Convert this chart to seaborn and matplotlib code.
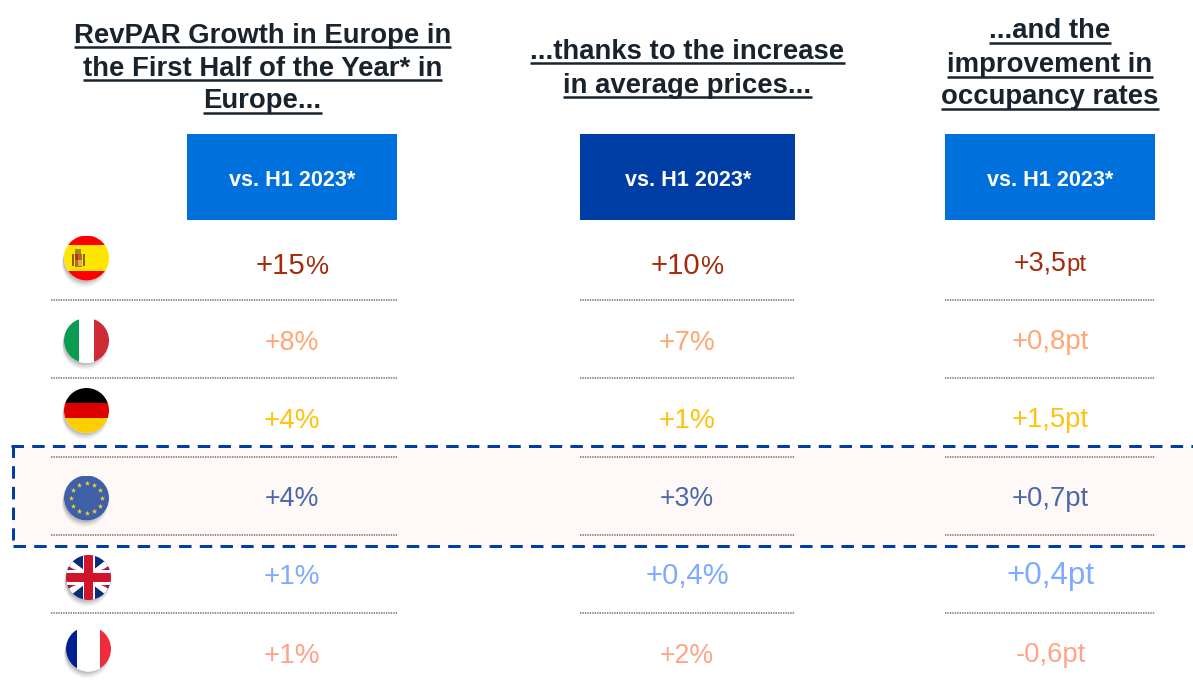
import matplotlib
matplotlib.use("Agg")
import matplotlib.pyplot as plt
from matplotlib.patches import Circle, Rectangle, Polygon
import numpy as np
import pandas as pd
import seaborn as sns

# ---- data ----
countries = ["Spain", "Italy", "Germany", "Europe", "UK", "France"]
revpar = [("+15", "%"), ("+8", "%"), ("+4", "%"), ("+4", "%"), ("+1", "%"), ("+1", "%")]
prices = [("+10", "%"), ("+7", "%"), ("+1", "%"), ("+3", "%"), ("+0,4", "%"), ("+2", "%")]
occupancy = [("+3,5", "pt"), ("+0,8", "pt"), ("+1,5", "pt"), ("+0,7", "pt"), ("+0,4", "pt"), ("-0,6", "pt")]
headers = [
    ["RevPAR Growth in Europe in", "the First Half of the Year* in", "Europe..."],
    ["...thanks to the increase", "in average prices..."],
    ["...and the", "improvement in", "occupancy rates"],
]
box_label = "vs. H1 2023*"

# ---- styles / layout ----
W, H = 1193, 684
row_colors = ["#A32A0B", "#FFA673", "#FFC20E", "#4A66AC", "#7FAAFF", "#FFA388"]
box_colors = ["#0070DC", "#003DA5", "#0070DC"]
col_centers = [292, 687, 1050.5]
col_boxes = [(187, 397), (580, 795), (945, 1155)]
box_text_x = [292.5, 688, 1050.5]
baselines = [[274, 350, 428, 506, 584, 663],
             [274, 350, 428, 506, 584, 663],
             [271, 349, 427, 506, 584, 662.5]]
num_sizes = [[21.2, 19.3, 20, 19.3, 20, 20],
             [21.2, 20.2, 20.2, 19.2, 21.1, 19.2],
             [19.4, 19.7, 19.7, 19.7, 22.6, 19.7]]
unit_sizes = [[18.7, 19.3, 20, 19.3, 20, 20],
              [18.7, 20.2, 20.2, 19.2, 21.1, 19.2],
              [17.3, 19.7, 19.7, 19.7, 22.6, 19.7]]
sep_y = [300, 378, 457, 535, 613]
flag_x = [86.5, 86.5, 86.5, 86.5, 88.5, 88.5]
flag_y = [258, 340.5, 410.5, 498, 577.5, 649]
R = 22.5
header_base = [[42.7, 76, 108.5], [59.3, 92.7], [38.3, 71.7, 104]]
header_line = [[46.5, 80, 113], [63.3, 97.3], [43, 76.7, 109]]
header_cx = [262.5, 687.5, 1050]
dark = "#18232D"

sns.set_theme(style="white")
plt.rcParams["font.family"] = ["Liberation Sans", "DejaVu Sans"]
fig = plt.figure(figsize=(W / 100, H / 100), dpi=100, facecolor="white")
ax = fig.add_axes([0, 0, 1, 1])
ax.set_xlim(0, W)
ax.set_ylim(H, 0)
ax.axis("off")

# highlight band
dash = dict(color="#003DA5", lw=2.16, ls=(0, (4.15, 2.75)), dash_capstyle="butt", zorder=2.5)
ax.add_patch(Rectangle((12, 445.5), W, 100.5, facecolor="#FEF9F6", edgecolor="none", zorder=1))
ax.plot([11, W], [445.5, 445.5], **dash)
ax.plot([13, W], [546, 546], **dash)
ax.plot([12.5, 12.5], [445, 540], **dash)

# headers with underlines
fig.canvas.draw()
rend = fig.canvas.get_renderer()
for lines, ys, uls, cx in zip(headers, header_base, header_line, header_cx):
    for line, y, ul in zip(lines, ys, uls):
        t = ax.text(cx, y, line, ha="center", va="baseline", fontsize=19.85, fontweight="bold", color=dark, zorder=4)
        bb = t.get_window_extent(rend)
        ax.plot([bb.x0, bb.x1], [ul, ul], color=dark, lw=1.8, solid_capstyle="butt", zorder=4)

# boxes
for (x0, x1), c, tx in zip(col_boxes, box_colors, box_text_x):
    ax.add_patch(Rectangle((x0, 134), x1 - x0, 85.5, facecolor=c, edgecolor="none", zorder=2))
    ax.text(tx, 185.7, box_label, ha="center", va="baseline", fontsize=15.6, fontweight="bold",
            color="white", zorder=3)

# separators
for y in sep_y:
    for i, (x0, x1) in enumerate(col_boxes):
        ax.plot([51 if i == 0 else x0, x1], [y, y], color="#6E6E6E", lw=1.1, ls=(0, (0.9, 0.7)), zorder=2)

# values: one string when number and unit share a size, two side by side otherwise
for col, cx, bases, nsz, usz in zip([revpar, prices, occupancy], col_centers, baselines, num_sizes, unit_sizes):
    for (num, unit), y, c, fn, fu in zip(col, bases, row_colors, nsz, usz):
        if fn == fu:
            ax.text(cx, y, num + unit, ha="center", va="baseline", fontsize=fn, color=c, zorder=4)
            continue
        a = ax.text(0, y, num, ha="left", va="baseline", fontsize=fn, color=c, zorder=4)
        b = ax.text(0, y, unit, ha="left", va="baseline", fontsize=fu, color=c, zorder=4)
        wa = a.get_window_extent(rend).width
        wb = b.get_window_extent(rend).width
        a.set_x(cx - (wa + wb) / 2)
        b.set_x(cx - (wa + wb) / 2 + wa)

# flag shadows and discs through seaborn
df = pd.DataFrame({"country": countries, "x": flag_x, "y": flag_y})
for off, a, s in [(6, .03, 1.03), (6, .04, 1.0), (5, .05, 1.0), (4, .07, .99), (3, .09, .98), (2, .10, .98)]:
    shadow = df.assign(x=df.x - 1.5, y=df.y + off)
    sns.scatterplot(data=shadow, x="x", y="y", s=(2 * R * .72 * s) ** 2, color="#444444", alpha=a,
                    edgecolor="none", legend=False, ax=ax, zorder=3, clip_on=False)
sns.scatterplot(data=df, x="x", y="y", s=(2 * R * .72) ** 2, color="white", edgecolor="none",
                legend=False, ax=ax, zorder=4)
ax.set_xlim(0, W); ax.set_ylim(H, 0); ax.set_xlabel(""); ax.set_ylabel("")


def disc(cx, cy):
    return Circle((cx, cy), R, transform=ax.transData, fc="none", ec="none")


def clipped(p, cx, cy, z=5):
    ax.add_patch(p)
    p.set_zorder(z)
    p.set_clip_path(disc(cx, cy))
    return p


def hbands(cx, cy, fr, cols):
    for (a, b), c in zip(zip(fr[:-1], fr[1:]), cols):
        clipped(Rectangle((cx - R, cy - R + a * 2 * R), 2 * R, (b - a) * 2 * R, fc=c, ec="none"), cx, cy)


def vbands(cx, cy, fr, cols):
    for (a, b), c in zip(zip(fr[:-1], fr[1:]), cols):
        clipped(Rectangle((cx - R + a * 2 * R, cy - R), (b - a) * 2 * R, 2 * R, fc=c, ec="none"), cx, cy)


# Spain
hbands(flag_x[0], flag_y[0], [0, .22, .78, 1], ["#FF0000", "#FFE600", "#FF0000"])
cx, cy = flag_x[0] - 8.5, flag_y[0]
ax.add_patch(Rectangle((cx - 3.5, cy - 4), 7, 13, fc="#C0632B", ec="none", zorder=6))
ax.add_patch(Rectangle((cx - 3.5, cy - 4), 3.5, 6, fc="#B5302A", ec="none", zorder=6))
ax.add_patch(Rectangle((cx, cy + 2), 3.5, 6, fc="#D8B23A", ec="none", zorder=6))
ax.add_patch(Rectangle((cx - 6.5, cy - 4), 2, 12, fc="#7A6A20", ec="none", zorder=6))
ax.add_patch(Rectangle((cx + 4.5, cy - 4), 2, 12, fc="#7A6A20", ec="none", zorder=6))
ax.add_patch(Rectangle((cx - 3, cy - 9.5), 6, 5, fc="#A8862A", ec="none", zorder=6))

vbands(flag_x[1], flag_y[1], [0, .34, .66, 1], ["#0A9A50", "#FFFFFF", "#CE2B37"])
hbands(flag_x[2], flag_y[2], [0, .33, .67, 1], ["#000000", "#DD0000", "#FFCE00"])

# EU
cx, cy = flag_x[3], flag_y[3]
clipped(Rectangle((cx - R, cy - R), 2 * R, 2 * R, fc="#3F5FA8", ec="none"), cx, cy)
ang = np.arange(12) * np.pi / 6
ax.scatter(cx + 15.2 * np.cos(ang), cy + 15.2 * np.sin(ang), marker="*", s=16, color="#F5D327", lw=0, zorder=6)

# UK
cx, cy = flag_x[4], flag_y[4]
clipped(Rectangle((cx - R, cy - R), 2 * R, 2 * R, fc="#0B2A78", ec="none"), cx, cy)
for sx in (-1, 1):
    clipped(Polygon([(cx - sx * 27, cy - 17), (cx - sx * 22, cy - 21), (cx + sx * 27, cy + 17), (cx + sx * 22, cy + 21)],
                    fc="white", ec="none"), cx, cy)
    clipped(Polygon([(cx - sx * 22, cy - 9), (cx - sx * 20, cy - 10.5), (cx - sx * 11, cy - 7), (cx - sx * 13, cy - 6)],
                    fc="#CF142B", ec="none"), cx, cy, 5.05)
    clipped(Polygon([(cx + sx * 22, cy + 9), (cx + sx * 20, cy + 10.5), (cx + sx * 11, cy + 7), (cx + sx * 13, cy + 6)],
                    fc="#CF142B", ec="none"), cx, cy, 5.05)
clipped(Rectangle((cx - 6, cy - R), 12, 2 * R, fc="white", ec="none"), cx, cy, 5.1)
clipped(Rectangle((cx - R, cy - 7.5), 2 * R, 15, fc="white", ec="none"), cx, cy, 5.1)
clipped(Rectangle((cx - 4.7, cy - R), 9.4, 2 * R, fc="#CF142B", ec="none"), cx, cy, 5.2)
clipped(Rectangle((cx - R, cy - 4.5), 2 * R, 9, fc="#CF142B", ec="none"), cx, cy, 5.2)

vbands(flag_x[5], flag_y[5], [0, .25, .75, 1], ["#00208F", "#FFFFFF", "#EF2B3C"])

fig.savefig("out.png", dpi=100, facecolor="white")
